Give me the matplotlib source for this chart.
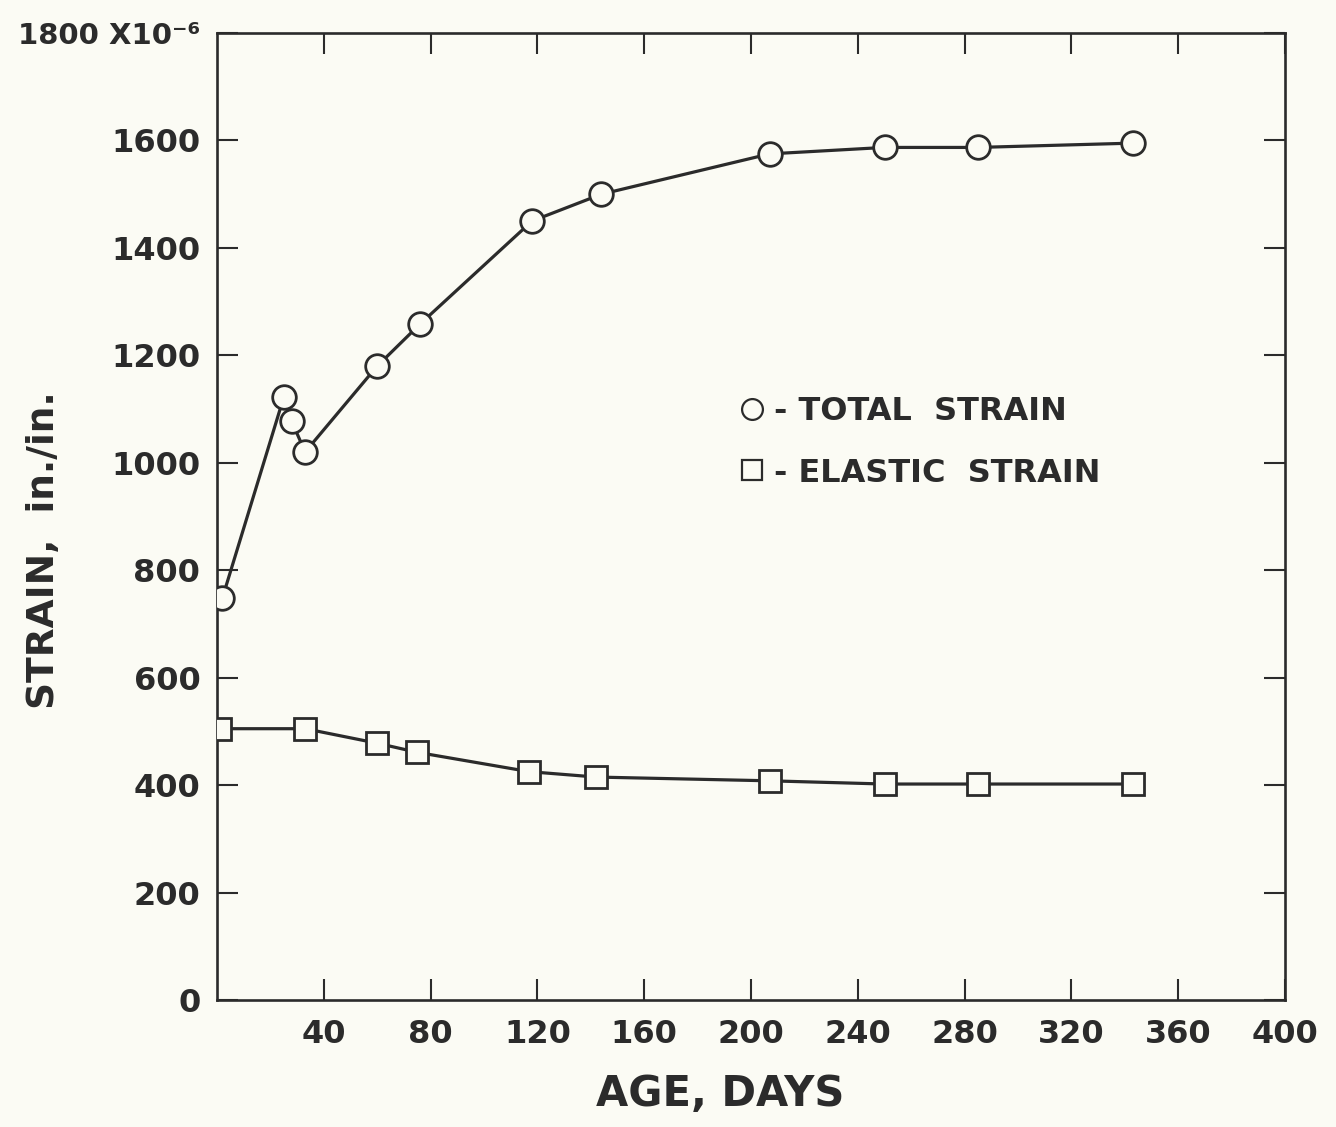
import matplotlib
matplotlib.use("Agg")
import matplotlib.pyplot as plt
from matplotlib.lines import Line2D

# Data
total_days = [2, 25, 28, 33, 60, 76, 118, 144, 207, 250, 285, 343]
total_strain = [748, 1122, 1077, 1020, 1180, 1258, 1450, 1500, 1575, 1587, 1587, 1595]
elastic_days = [1, 33, 60, 75, 117, 142, 207, 250, 285, 343]
elastic_strain = [505, 505, 478, 461, 425, 415, 408, 402, 402, 402]

x_ticks = [40, 80, 120, 160, 200, 240, 280, 320, 360, 400]
x_ticklabels = ["40", "80", "120", "160", "200", "240", "280", "320", "360", "400"]
y_ticks = [0, 200, 400, 600, 800, 1000, 1200, 1400, 1600, 1800]
y_ticklabels = ["0", "200", "400", "600", "800", "1000", "1200", "1400", "1600", "1800 X10\u207b\u2076"]

INK = "#2b2b2b"
BG = "#fbfbf4"

plt.rcParams['font.family'] = ['DejaVu Sans']
fig = plt.figure(figsize=(13.36, 11.27), dpi=100, facecolor=BG)
ax = fig.add_axes([217/1336, 127/1127, (1285-217)/1336, (1000-33)/1127])
ax.set_facecolor(BG)

ax.plot(total_days, total_strain, color=INK, lw=2.3, marker='o', ms=17,
        mfc=BG, mec=INK, mew=2.0, zorder=3)
ax.plot(elastic_days, elastic_strain, color=INK, lw=2.3, marker='s', ms=16,
        mfc=BG, mec=INK, mew=2.0, zorder=3)

ax.set_xlim(0, 400)
ax.set_ylim(0, 1800)
ax.set_xticks(x_ticks)
ax.set_xticklabels(x_ticklabels)
ax.set_yticks(y_ticks)
ax.set_yticklabels(y_ticklabels)

for s in ax.spines.values():
    s.set_linewidth(1.9)
    s.set_color(INK)

ax.tick_params(axis='both', direction='in', length=15, width=1.5, color=INK,
               labelcolor=INK, labelsize=23, top=True, right=True)
ax.tick_params(axis='x', pad=14)
ax.tick_params(axis='y', pad=12)
for lab in ax.get_xticklabels() + ax.get_yticklabels():
    lab.set_fontweight('bold')
ax.get_yticklabels()[-1].set_fontsize(21)

ax.set_xlabel("AGE, DAYS", fontsize=30, fontweight='bold', color=INK)
ax.xaxis.set_label_coords(0.471, -0.075)
ax.set_ylabel("STRAIN,  in./in.", fontsize=27, fontweight='bold', color=INK)
ax.yaxis.set_label_coords(-0.145, 0.465)

handles = [
    Line2D([], [], ls='none', marker='o', ms=15, mfc=BG, mec=INK, mew=1.6),
    Line2D([], [], ls='none', marker='s', ms=14, mfc=BG, mec=INK, mew=1.6),
]
leg = ax.legend(handles, ["- TOTAL  STRAIN", "- ELASTIC  STRAIN"],
                loc='upper left', bbox_to_anchor=(0.462, 0.654), frameon=False,
                handlelength=0.8, handletextpad=0.3, labelspacing=0.95,
                prop={'size': 23, 'weight': 'bold'})
for t in leg.get_texts():
    t.set_color(INK)

fig.savefig("out.png", dpi=100, facecolor=BG)
